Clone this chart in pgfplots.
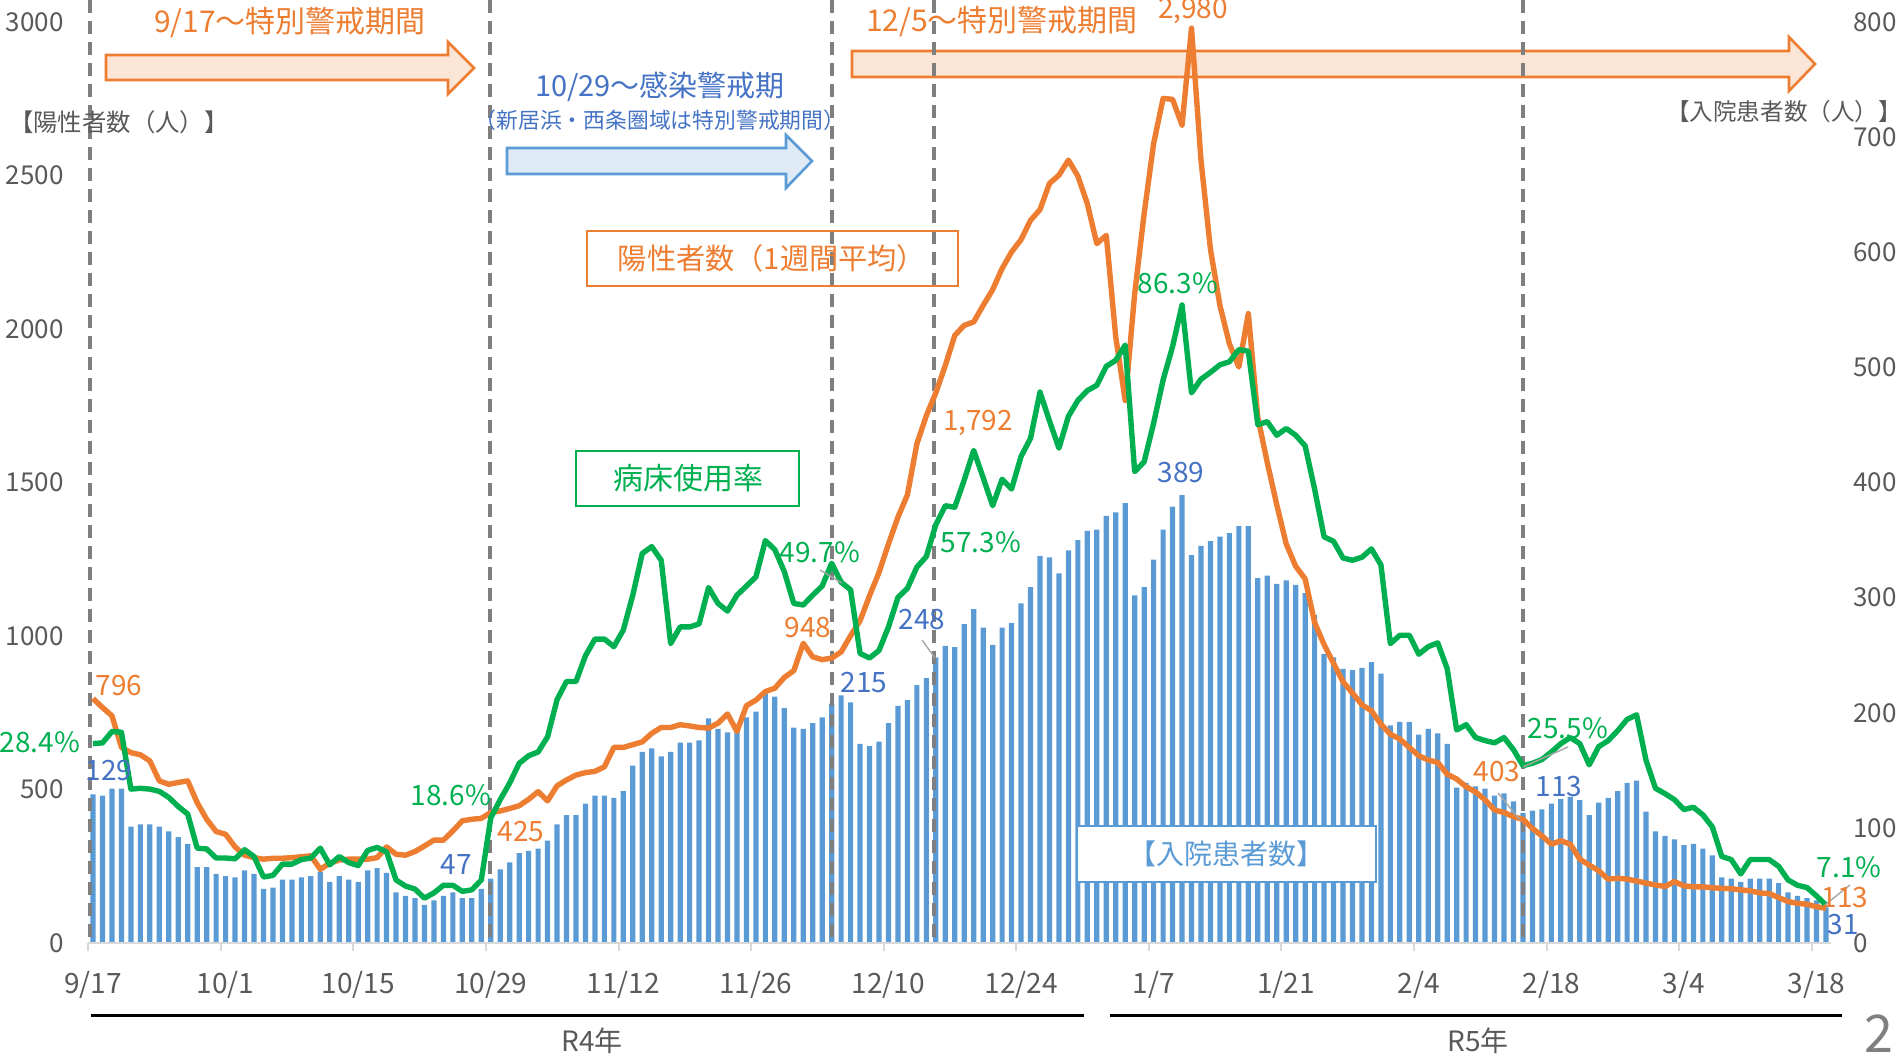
\documentclass[border=0pt]{standalone}
\usepackage{fontspec}
\setmainfont{Noto Sans CJK JP}
\usepackage{pgfplots}
\pgfplotsset{compat=1.18}
\usepackage{pgfplotstable}

\definecolor{cor}{HTML}{ED7D31}
\definecolor{cgr}{HTML}{00B050}
\definecolor{cbar}{HTML}{5B9BD5}
\definecolor{clbl}{HTML}{4472C4}
\definecolor{tgray}{HTML}{595959}
\definecolor{dgray}{HTML}{7F7F7F}
\definecolor{axgray}{HTML}{D9D9D9}
\definecolor{lgray}{HTML}{A6A6A6}
\definecolor{lor}{HTML}{FBE5D6}
\definecolor{lbl}{HTML}{DEEBF7}
\newcommand\fs[1]{\fontsize{#1}{#1}\selectfont}

\pgfplotstableread{
d h p b
0 129 796 28.4
1 128 767 28.5
2 134 740 30.0
3 134 637 29.9
4 101 620 22.4
5 103 613 22.5
6 103 593 22.4
7 101 528 22.1
8 97 517 21.3
9 92 523 20.1
10 86 528 19.1
11 66 457 14.6
12 66 403 14.5
13 60 363 13.3
14 58 354 13.3
15 57 313 13.2
16 63 286 14.4
17 60 278 13.5
18 47 273 10.8
19 48 276 11.0
20 55 276 12.5
21 55 278 12.5
22 57 281 13.1
23 58 284 13.3
24 62 240 14.6
25 53 260 12.4
26 58 270 13.5
27 55 273 12.7
28 53 273 12.3
29 63 273 14.3
30 65 278 14.7
31 61 313 14.1
32 44 289 10.4
33 41 286 9.6
34 39 298 9.2
35 33 316 8.0
36 37 335 8.7
37 41 335 9.7
38 44 365 9.7
39 39 398 8.9
40 39 403 9.1
41 47 406 10.4
42 56 425 18.6
43 64 430 21.0
44 70 438 23.2
45 78 447 25.8
46 80 468 26.8
47 82 493 27.3
48 89 463 29.3
49 103 512 34.2
50 111 531 36.6
51 111 547 36.6
52 121 555 40.0
53 128 559 42.2
54 128 574 42.2
55 126 637 41.2
56 132 637 43.4
57 154 646 48.0
58 166 655 53.5
59 169 683 54.4
60 162 702 52.6
61 166 702 41.6
62 174 711 43.8
63 174 707 43.8
64 176 702 44.2
65 195 700 49.0
66 186 716 46.9
67 183 746 45.9
68 186 689 48.0
69 196 773 49.2
70 201 791 50.4
71 217 819 55.2
72 214 830 54.0
73 204 865 51.1
74 187 887 46.9
75 186 976 46.7
76 191 932 48.0
77 196 923 49.2
78 208 928 52.2
79 215 948 49.7
80 209 1001 48.7
81 173 1050 40.3
82 171 1131 39.7
83 175 1207 40.7
84 191 1300 43.8
85 206 1387 47.7
86 211 1460 48.9
87 224 1626 51.7
88 230 1718 53.1
89 248 1792 57.3
90 258 1881 59.8
91 257 1979 59.6
92 277 2012 63.2
93 290 2023 67.1
94 274 2077 63.5
95 259 2128 59.8
96 274 2197 63.3
97 278 2251 62.0
98 295 2291 66.3
99 309 2354 68.7
100 336 2389 74.8
101 335 2474 71.0
102 321 2501 67.4
103 341 2550 71.6
104 350 2498 73.7
105 358 2408 75.0
106 359 2278 75.7
107 371 2305 78.2
108 374 1974 79.0
109 382 1767 81.0
110 302 2115 64.3
111 309 2376 65.6
112 333 2604 70.7
113 359 2751 76.4
114 379 2748 80.8
115 389 2664 86.3
116 337 2980 74.7
117 345 2550 76.5
118 349 2260 77.4
119 353 2077 78.4
120 356 1952 78.8
121 362 1876 80.4
122 362 2050 80.2
123 317 1713 70.5
124 319 1565 70.9
125 312 1428 69.1
126 315 1300 70.0
127 311 1227 69.1
128 304 1186 67.7
129 285 1044 62.0
130 251 972 55.7
131 248 911 55.1
132 238 851 52.9
133 237 814 52.6
134 239 776 53.0
135 244 756 54.1
136 234 713 52.0
137 189 680 41.6
138 192 664 42.7
139 192 637 42.7
140 181 610 40.2
141 186 596 41.2
142 182 588 41.7
143 173 550 38.3
144 135 534 30.2
145 139 509 30.9
146 136 492 29.2
147 134 466 28.8
148 128 433 28.5
149 130 425 29.2
150 123 411 27.6
151 113 403 25.5
152 115 373 25.8
153 116 349 26.3
154 121 322 27.3
155 125 333 28.4
156 127 322 29.2
157 124 273 28.4
158 111 254 25.6
159 122 235 28.0
160 126 208 28.8
161 132 211 30.1
162 139 208 31.6
163 141 202 32.2
164 114 195 26.2
165 97 189 22.5
166 93 184 21.8
167 90 200 21.0
168 85 186 19.7
169 86 183 20.0
170 82 183 19.0
171 76 180 17.4
172 57 178 13.5
173 56 177 13.1
174 53 173 11.2
175 56 170 13.1
176 56 163 13.1
177 56 161 13.1
178 52 148 12.2
179 44 135 10.4
180 41 129 9.7
181 39 126 9.4
182 37 118 8.3
183 31 113 7.1
}\datatab

\pgfplotsset{base/.style={at={(0pt,0pt)}, anchor=south west, scale only axis,
  width=871.2pt, height=460.5pt, xmin=-0.5, xmax=183.5, clip=false,
  /pgf/number format/assume math mode=true, /pgf/number format/1000 sep={}}}

\begin{document}
\begin{tikzpicture}[font=\fs{13pt}]
\useasboundingbox (-44.15pt,-57.5pt) rectangle (907.35pt,471.5pt);

% ---------- bars (right axis)
\begin{axis}[base, ymin=0, ymax=800, axis x line=none, axis y line*=right,
  y axis line style={draw=none}, ytick={0,100,...,800}, major tick length=0pt,
  yticklabel style={font=\fs{13pt}, text=tgray, anchor=west, xshift=7.8pt}]
\addplot[ybar, bar width=0.55, fill=cbar, draw=none] table[x=d,y=h]{\datatab};
\end{axis}

% ---------- annotations under the lines
\begin{scope}[x=0.5pt,y=-0.5pt,shift={(-44.15pt,471.5pt)}]
  % arrows
  \draw[cor, line width=1.3pt, fill=lor, line join=miter]
    (106,55) -- (448,55) -- (448,42) -- (474,68) -- (448,94) -- (448,80) -- (106,80) -- cycle;
  \draw[cor, line width=1.3pt, fill=lor, line join=miter]
    (852,51) -- (1789,51) -- (1789,37) -- (1815,64) -- (1789,91) -- (1789,77) -- (852,77) -- cycle;
  \draw[cbar, line width=1.3pt, fill=lbl, line join=miter]
    (507,148) -- (786,148) -- (786,135) -- (812,161) -- (786,188) -- (786,174) -- (507,174) -- cycle;
  % dashed period lines
  \foreach \xx in {90,490,832,934,1523}
    \draw[dgray, line width=1.7pt, dash pattern=on 6.5pt off 4pt] (\xx,0) -- (\xx,943);
  % boxes
  \draw[cor, line width=1pt] (587,231) rectangle (958,286);
  \node[text=cor, inner sep=0, font=\fs{14.6pt}] at (772,258) {陽性者数（1週間平均）};
  \draw[cgr, line width=1pt, fill=white] (576,451) rectangle (799,506);
  \node[text=cgr, inner sep=0, font=\fs{15pt}] at (688,478) {病床使用率};
  \draw[cbar, line width=1pt, fill=white] (1077,826) rectangle (1376,882);
  \node[text=cbar, inner sep=0, font=\fs{14pt}] at (1226,854) {【入院患者数】};
  % titles
  \node[text=cor, inner sep=0, font=\fs{15pt}] at (290,23) {9/17～特別警戒期間};
  \node[text=cor, inner sep=0, font=\fs{15pt}] at (1002,22) {12/5～特別警戒期間};
  \node[text=clbl, inner sep=0, font=\fs{14.5pt}] at (660,87) {10/29～感染警戒期};
  \node[text=clbl, inner sep=0, font=\fs{10.9pt}] at (660,120) {（新居浜・西条圏域は特別警戒期間）};
  \node[text=tgray, inner sep=0, font=\fs{12.2pt}] at (119,122) {【陽性者数（人）】};
  \node[text=tgray, inner sep=0, font=\fs{11.8pt}] at (1784,112) {【入院患者数（人）】};
  % bottom
  \draw[black, line width=1.5pt] (91,1016) -- (1084,1016);
  \draw[black, line width=1.5pt] (1110,1016) -- (1842,1016);
  \node[text=tgray, inner sep=0, font=\fs{14pt}] at (592,1041) {R4年};
  \node[text=tgray, inner sep=0, font=\fs{14pt}] at (1478,1041) {R5年};
  \node[text=dgray, inner sep=0, font=\fs{26pt}] at (1879,1034) {2};
\end{scope}

% ---------- positives (left axis)
\begin{axis}[base, ymin=0, ymax=3000, axis y line*=left, y axis line style={draw=none},
  ytick={0,500,...,3000},
  axis x line*=bottom, x axis line style={-, draw=axgray, line width=1pt},
  xtick={0,14,...,182},
  xticklabels={9/17,10/1,10/15,10/29,11/12,11/26,12/10,12/24,1/7,1/21,2/4,2/18,3/4,3/18},
  minor xtick={-0.5,13.5,...,181.5},
  major tick length=0pt, minor tick length=4pt, tick align=outside,
  minor tick style={axgray, line width=1pt},
  xticklabel style={font=\fs{14pt}, text=tgray, yshift=-10.5pt},
  yticklabel style={font=\fs{13pt}, text=tgray, xshift=-8.8pt}]
\addplot[cor, line width=2.7pt, mark=none, line join=round] table[x=d,y=p]{\datatab};
\end{axis}

% ---------- bed usage (hidden axis)
\begin{axis}[base, ymin=2.086, ymax=123.65, hide axis]
\addplot[cgr, line width=2.7pt, mark=none, line join=round] table[x=d,y=b]{\datatab};
\end{axis}

% ---------- data labels
\begin{scope}[x=0.5pt,y=-0.5pt,shift={(-44.15pt,471.5pt)}, every node/.style={inner sep=0, font=\fs{14pt}}]
  \draw[lgray, line width=0.7pt] (820,570) -- (842,583);
  \draw[lgray, line width=0.7pt] (922,640) -- (935,658);
  \draw[lgray, line width=0.7pt] (1568,747) -- (1523,767);
  \draw[lgray, line width=0.7pt] (1498,793) -- (1520,820);
  \draw[lgray, line width=0.7pt] (1850,885) -- (1825,905);
  \node[text=cor] at (119,686) {796};
  \node[text=cor] at (521,832) {425};
  \node[text=cor] at (808,628) {948};
  \node[text=cor] at (978,423) {1,792};
  \node[text=cor] at (1193,11) {2,980};
  \node[text=cor] at (1497,772) {403};
  \node[text=cor] at (1845,898) {113};
  \node[text=cgr] at (40,742) {28.4\%};
  \node[text=cgr] at (451,795) {18.6\%};
  \node[text=cgr] at (820,552) {49.7\%};
  \node[text=cgr] at (981,542) {57.3\%};
  \node[text=cgr] at (1178,283) {86.3\%};
  \node[text=cgr] at (1568,728) {25.5\%};
  \node[text=cgr] at (1849,867) {7.1\%};
  \node[text=clbl] at (109,771) {129};
  \node[text=clbl] at (456,865) {47};
  \node[text=clbl] at (864,683) {215};
  \node[text=clbl] at (922,620) {248};
  \node[text=clbl] at (1181,473) {389};
  \node[text=clbl] at (1559,787) {113};
  \node[text=clbl] at (1843,925) {31};
\end{scope}
\end{tikzpicture}
\end{document}
